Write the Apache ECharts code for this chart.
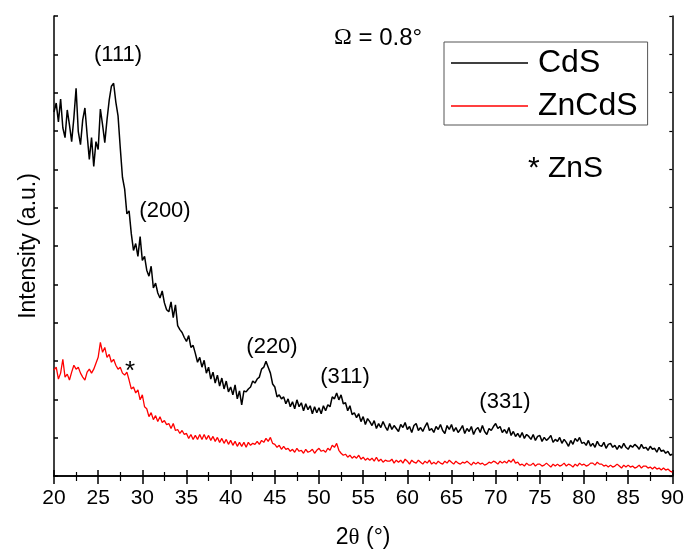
<!DOCTYPE html>
<html>
<head>
<meta charset="utf-8">
<script src="https://cdn.jsdelivr.net/npm/echarts@6/dist/echarts.min.js"></script>
<style>
html,body{margin:0;padding:0;background:#fff;}
#chart{width:687px;height:554px;}
</style>
</head>
<body>
<div id="chart"></div>
<script>
// 2θ scan grid (degrees)
const xStart = 20;
const xStep = 0.25;

// CdS intensity (a.u.), one row per degree (x.00, x.25, x.50, x.75), last value at 90°
const cds = [
  368,377,358,381,
  352,342,370,355,
  338,362,392,348,
  335,360,372,345,
  320,342,313,338,
  330,371,355,337,
  360,380,394,397,
  378,364,332,302,
  290,265,268,245,
  228,235,222,242,
  218,222,208,202,
  212,190,195,185,
  180,187,175,168,
  166,176,160,173,
  152,148,145,140,
  136,142,130,132,
  124,115,120,110,
  117,104,110,98,
  105,94,102,91,
  99,88,96,85,
  90,82,92,78,
  86,72,86,85,
  88,90,96,94,
  98,100,108,110,
  116,110,104,93,
  90,80,82,78,
  80,73,78,70,
  75,68,77,70,
  74,66,73,67,
  71,63,70,64,
  69,63,71,66,
  72,70,80,78,
  84,77,82,73,
  74,66,71,62,
  64,59,63,55,
  60,52,58,55,
  51,56,48,53,
  49,55,50,46,
  53,47,51,48,
  45,52,49,54,
  47,50,44,51,
  53,46,49,45,
  50,54,46,48,
  44,50,47,52,
  46,43,51,47,
  52,45,49,44,
  47,51,43,48,
  45,50,42,47,
  49,44,51,45,
  42,48,46,50,
  53,48,50,44,
  47,43,49,41,
  45,40,43,39,
  44,38,42,40,
  37,42,36,40,
  41,35,39,36,
  38,41,34,37,
  35,39,33,37,
  34,30,36,32,
  38,35,39,33,
  34,31,36,30,
  33,29,35,31,
  30,34,28,32,
  33,29,31,27,
  31,28,33,29,
  27,31,29,32,
  30,27,32,28,
  29,26,30,27,
  28,24,29,25,
  26,23,25,21,
  22
];

// ZnCdS intensity (a.u.), same grid
const zncds = [
  107,110,98,104,
  118,100,103,97,
  105,112,108,110,
  104,100,97,105,
  108,104,108,114,
  120,135,125,130,
  120,123,115,118,
  112,108,110,104,
  102,105,97,88,
  90,84,87,77,
  82,70,68,60,
  64,57,61,55,
  60,54,56,52,
  53,48,53,46,
  47,43,46,42,
  43,38,42,37,
  41,37,42,37,
  42,37,41,36,
  40,35,39,34,
  38,33,37,32,
  36,31,35,30,
  34,30,34,29,
  34,31,33,32,
  35,32,36,34,
  38,35,39,33,
  32,29,31,27,
  30,27,28,25,
  27,24,28,25,
  26,23,27,24,
  25,27,23,26,
  28,25,26,24,
  28,26,31,29,
  33,26,23,21,
  22,19,21,18,
  20,18,21,17,
  19,16,18,16,
  18,15,19,15,
  17,14,16,15,
  15,17,13,16,
  14,16,13,17,
  15,12,16,14,
  13,16,14,12,
  15,13,16,12,
  14,12,15,13,
  12,15,13,16,
  14,12,15,13,
  12,14,13,15,
  13,11,14,12,
  14,12,13,11,
  12,14,13,15,
  14,12,15,13,
  15,13,16,14,
  17,13,14,11,
  12,10,13,11,
  11,13,10,12,
  12,10,11,13,
  11,9,12,10,
  12,10,11,13,
  10,12,11,9,
  12,10,13,11,
  12,10,11,13,
  13,11,14,12,
  12,10,11,9,
  11,9,10,12,
  10,8,11,9,
  11,9,10,8,
  9,11,8,10,
  10,8,9,7,
  9,7,8,6,
  8,6,7,5,
  4
];

const seriesNames = ['CdS', 'ZnCdS'];
const peakLabels = ['(111)', '(200)', '(220)', '(311)', '(331)'];

function toPairs(arr) {
  return arr.map((v, i) => [xStart + i * xStep, v]);
}

const chart = echarts.init(document.getElementById('chart'), null, {renderer: 'canvas'});
const font = 'Liberation Sans, Arial, sans-serif';
const serif = 'Liberation Serif, Times New Roman, serif';
const axisLine = {show: true, lineStyle: {color: '#000', width: 1.5}};

const option = {
  animation: false,
  backgroundColor: '#fff',
  grid: {left: 54, right: 11, top: 16, bottom: 74, containLabel: false},
  xAxis: [
    {
      type: 'value', position: 'bottom', min: 20, max: 90, interval: 5,
      axisLine: axisLine,
      axisTick: {show: true, inside: false, length: 8, lineStyle: {color: '#000', width: 1.5}},
      minorTick: {show: true, splitNumber: 2, length: 5, lineStyle: {color: '#000', width: 1.2}},
      splitLine: {show: false},
      axisLabel: {show: true, color: '#000', fontSize: 21, fontFamily: font, margin: 12},
      name: '2{t|θ} (°)',
      nameLocation: 'middle', nameGap: 50,
      nameTextStyle: {color: '#000', fontSize: 23, fontFamily: font,
        rich: {t: {fontSize: 23, fontFamily: serif, color: '#000'}}}
    },
    {
      type: 'value', position: 'top', min: 20, max: 90, interval: 5,
      axisLine: axisLine,
      axisTick: {show: true, inside: false, length: 6, lineStyle: {color: '#000', width: 1.5}},
      minorTick: {show: true, splitNumber: 2, length: 4, lineStyle: {color: '#000', width: 1.2}},
      splitLine: {show: false},
      axisLabel: {show: false}
    }
  ],
  yAxis: [
    {
      type: 'value', position: 'left', min: 0, max: 465, interval: 38.75,
      axisLine: axisLine,
      axisTick: {show: true, inside: true, length: 4, lineStyle: {color: '#000', width: 1.5}},
      splitLine: {show: false},
      axisLabel: {show: false},
      name: 'Intensity (a.u.)',
      nameLocation: 'middle', nameGap: 14,
      nameTextStyle: {color: '#000', fontSize: 23, fontFamily: font}
    },
    {
      type: 'value', position: 'right', min: 0, max: 465, interval: 38.75,
      axisLine: axisLine,
      axisTick: {show: true, inside: true, length: 3, lineStyle: {color: '#000', width: 1.2}},
      splitLine: {show: false},
      axisLabel: {show: false}
    }
  ],
  legend: {
    orient: 'vertical',
    left: 444, top: 42,
    data: seriesNames,
    icon: 'rect',
    itemWidth: 77, itemHeight: 1.5,
    itemGap: 7,
    padding: [3, 10, 1, 7],
    borderColor: '#555', borderWidth: 1,
    backgroundColor: '#fff',
    textStyle: {color: '#000', fontSize: 32, fontFamily: font, lineHeight: 36, padding: [0, 0, 0, 5]}
  },
  series: [
    {
      name: seriesNames[0], type: 'line', data: toPairs(cds),
      showSymbol: false, symbol: 'none',
      lineStyle: {color: '#000', width: 1.5}, itemStyle: {color: '#000'},
      z: 3
    },
    {
      name: seriesNames[1], type: 'line', data: toPairs(zncds),
      showSymbol: false, symbol: 'none',
      lineStyle: {color: '#ff0000', width: 1.3}, itemStyle: {color: '#ff0000'},
      z: 2
    }
  ],
  graphic: [
    {type: 'text', x: 118, y: 55, style: {text: peakLabels[0], fontSize: 22, fontFamily: font, fill: '#000', align: 'center', verticalAlign: 'middle'}},
    {type: 'text', x: 165, y: 211, style: {text: peakLabels[1], fontSize: 22, fontFamily: font, fill: '#000', align: 'center', verticalAlign: 'middle'}},
    {type: 'text', x: 272, y: 347, style: {text: peakLabels[2], fontSize: 22, fontFamily: font, fill: '#000', align: 'center', verticalAlign: 'middle'}},
    {type: 'text', x: 345, y: 377, style: {text: peakLabels[3], fontSize: 22, fontFamily: font, fill: '#000', align: 'center', verticalAlign: 'middle'}},
    {type: 'text', x: 505, y: 402, style: {text: peakLabels[4], fontSize: 22, fontFamily: font, fill: '#000', align: 'center', verticalAlign: 'middle'}},
    {type: 'text', x: 130, y: 372, style: {text: '*', fontSize: 26, fontFamily: font, fill: '#000', align: 'center', verticalAlign: 'middle'}},
    {type: 'text', x: 334, y: 38, style: {
      text: '{o|Ω} = 0.8°', fontSize: 24, fontFamily: font, fill: '#000', align: 'left', verticalAlign: 'middle',
      rich: {o: {fontSize: 24, fontFamily: serif, fill: '#000'}}}},
    {type: 'text', x: 528, y: 169, style: {text: '* ZnS', fontSize: 30, fontFamily: font, fill: '#000', align: 'left', verticalAlign: 'middle'}}
  ]
};
chart.setOption(option);
</script>
</body>
</html>
